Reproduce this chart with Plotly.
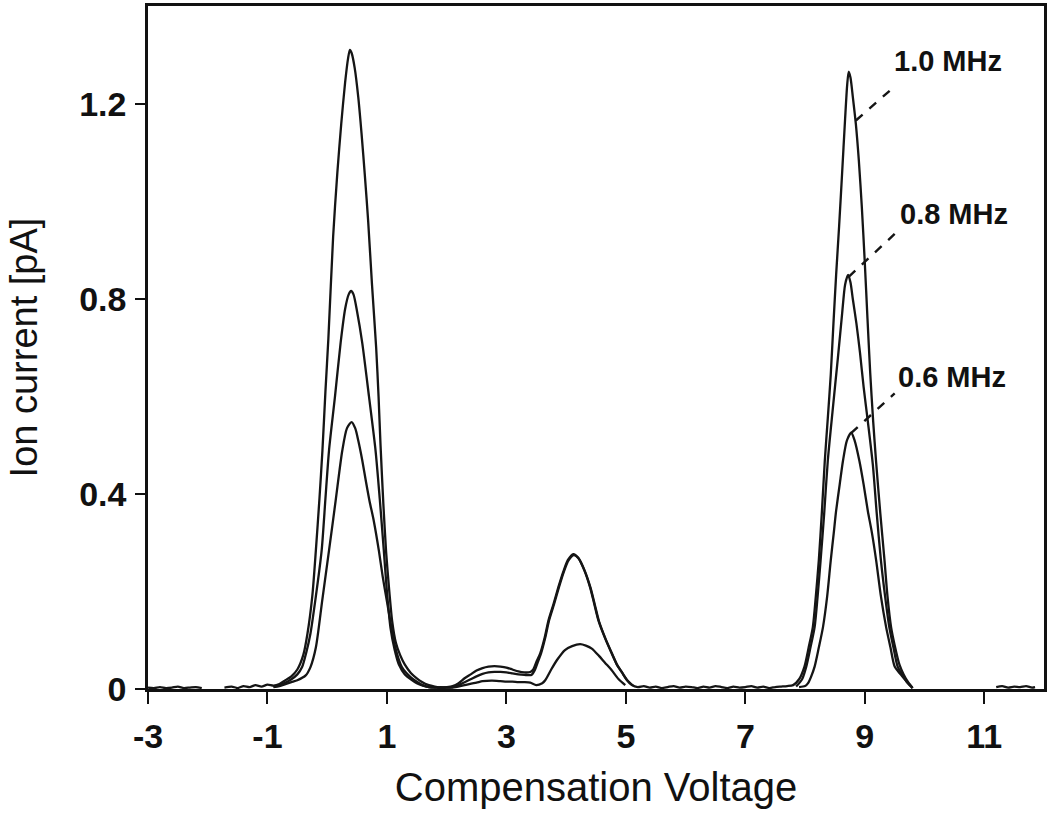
import plotly.graph_objects as go

# ---------------- data ----------------
N = None
x_10 = [-3.0, -2.9, -2.8, -2.7, -2.6, -2.5, -2.4, -2.3, -2.2, -2.1, N,
        -1.72, -1.6, -1.5, -1.4, -1.3, -1.2, -1.1, -1.0, -0.9, -0.8, -0.7, -0.6, -0.5, -0.4,
        -0.33, -0.25, -0.19, -0.13, -0.08, -0.03, 0.02, 0.1, 0.17, 0.235, 0.3, 0.35, 0.38,
        0.41, 0.46, 0.52, 0.575, 0.63, 0.686, 0.75, 0.82, 0.86, 0.893, 0.94, 0.987, 1.04,
        1.087, 1.15, 1.22, 1.3, 1.4, 1.5, 1.58, 1.7, 1.8, 1.9, 2.0, 2.1, 2.2, 2.3, 2.4, 2.5, 2.6,
        2.7, 2.8, 2.9, 3.0, 3.1, 3.2, 3.3, 3.4, 3.45, 3.5, 3.566, 3.64, 3.705, 3.79, 3.87,
        3.95, 4.03, 4.12, 4.2, 4.3, 4.4, 4.47, 4.54, 4.65, 4.763, 4.85, 4.93, 5.02, 5.1,
        5.2, 5.3, 5.4, 5.5, 5.6, 5.7, 5.8, 5.9, 6.0, 6.1, 6.2, 6.3, 6.4, 6.5, 6.6, 6.7,
        6.8, 6.9, 7.0, 7.1, 7.2, 7.3, 7.4, 7.5, 7.6, 7.7, 7.8, 7.9, 7.99, 8.06, 8.13, 8.18,
        8.23, 8.28, 8.33, 8.38, 8.43, 8.475, 8.52, 8.57, 8.618, 8.67, 8.705, 8.73, 8.76,
        8.8, 8.85, 8.9, 8.95, 9.0, 9.045, 9.09, 9.14, 9.19, 9.26, 9.33, 9.38, 9.44,
        9.5, 9.58, 9.65, 9.72, 9.8, N,
        11.2, 11.3, 11.4, 11.5, 11.6, 11.7, 11.8, 11.85]
y_10 = [0.003, 0.002, 0.004, 0.002, 0.003, 0.005, 0.002, 0.003, 0.004, 0.002, N,
        0.003, 0.005, 0.002, 0.006, 0.004, 0.008, 0.005, 0.009, 0.007, 0.01, 0.018, 0.026, 0.04, 0.07,
        0.114, 0.19, 0.284, 0.39, 0.489, 0.61, 0.72, 0.93, 1.06, 1.16, 1.245, 1.295, 1.312,
        1.305, 1.275, 1.215, 1.14, 1.055, 0.96, 0.83, 0.7, 0.6, 0.5, 0.38, 0.28, 0.2,
        0.14, 0.095, 0.07, 0.05, 0.033, 0.022, 0.015, 0.008, 0.005, 0.003, 0.004, 0.006, 0.012, 0.022, 0.03, 0.038, 0.043,
        0.046, 0.047, 0.046, 0.044, 0.04, 0.036, 0.034, 0.035, 0.04, 0.055, 0.073, 0.105, 0.141, 0.175, 0.209,
        0.24, 0.265, 0.277, 0.27, 0.245, 0.209, 0.175, 0.141, 0.105, 0.073, 0.05, 0.035, 0.018, 0.008,
        0.004, 0.006, 0.003, 0.005, 0.002, 0.004, 0.006, 0.003, 0.005, 0.004, 0.002, 0.005, 0.003, 0.006, 0.004, 0.002,
        0.005, 0.003, 0.004, 0.006, 0.003, 0.005, 0.002, 0.004, 0.005, 0.006, 0.008, 0.02, 0.046, 0.085, 0.127, 0.19,
        0.264, 0.36, 0.468, 0.555, 0.645, 0.75, 0.85, 0.95, 1.054, 1.17, 1.24, 1.267, 1.255,
        1.215, 1.16, 1.085, 0.99, 0.875, 0.76, 0.65, 0.55, 0.465, 0.36, 0.264, 0.19, 0.127,
        0.09, 0.05, 0.03, 0.015, 0.002, N,
        0.004, 0.006, 0.003, 0.005, 0.004, 0.006, 0.003, 0.004]

x_08 = [-0.9, -0.8, -0.7, -0.6, -0.5, -0.42, -0.35, -0.28, -0.19, -0.093, -0.03, 0.03, 0.13,
        0.225, 0.3, 0.36, 0.40, 0.44, 0.5, 0.586, 0.7, 0.81, 0.88, 0.948, 1.0, 1.06, 1.13,
        1.2, 1.3, 1.4, 1.5, 1.6, 1.7, 1.8, 1.9, 2.0, 2.1, 2.2, 2.3, 2.4, 2.5, 2.6, 2.7, 2.8,
        2.9, 3.0, 3.1, 3.2, 3.3, 3.42, 3.48, 3.54, 3.58, 3.65, 3.715, 3.8, 3.88, 3.96, 4.04,
        4.13, 4.21, 4.31, 4.41, 4.48, 4.55, 4.66, 4.775, 4.86, 4.94, 5.03, 5.12, N,
        7.85, 7.95, 8.02, 8.09, 8.16, 8.21, 8.26, 8.32, 8.38, 8.46, 8.55, 8.62, 8.67, 8.72,
        8.76, 8.8, 8.86, 8.92, 8.98, 9.05, 9.135, 9.2, 9.27, 9.34, 9.41, 9.48, 9.55, 9.65, 9.72, 9.8]
y_08 = [0.005, 0.008, 0.013, 0.02, 0.03, 0.045, 0.075, 0.114, 0.19, 0.284, 0.39, 0.489, 0.6,
        0.711, 0.78, 0.81, 0.817, 0.81, 0.775, 0.711, 0.6, 0.489, 0.39, 0.284, 0.2, 0.125, 0.08,
        0.05, 0.03, 0.02, 0.012, 0.007, 0.004, 0.003, 0.004, 0.003, 0.004, 0.008, 0.014, 0.02, 0.026, 0.031, 0.034, 0.035,
        0.035, 0.034, 0.032, 0.03, 0.029, 0.029, 0.04, 0.06, 0.073, 0.105, 0.141, 0.175, 0.209, 0.24, 0.264,
        0.275, 0.268, 0.243, 0.207, 0.173, 0.139, 0.103, 0.071, 0.048, 0.033, 0.017, 0.007, N,
        0.005, 0.02, 0.046, 0.085, 0.127, 0.19, 0.264, 0.36, 0.468, 0.57, 0.68, 0.77, 0.83, 0.85,
        0.835, 0.8, 0.75, 0.69, 0.62, 0.55, 0.46, 0.36, 0.264, 0.19, 0.127, 0.085, 0.046, 0.025, 0.012, 0.002]

x_06 = [-0.9, -0.8, -0.7, -0.6, -0.5, -0.36, -0.28, -0.19, -0.083, 0.03, 0.141, 0.252, 0.33,
        0.408, 0.47, 0.52, 0.586, 0.65, 0.71, 0.78, 0.865, 0.93, 1.0, 1.07, 1.14, 1.25, 1.39,
        1.5, 1.6, 1.7, 1.8, 1.9, 2.0, 2.1, 2.3, 2.5, 2.6, 2.76, 2.9, 3.0, 3.1, 3.2, 3.3, 3.4,
        3.5, 3.6, 3.65, 3.75, 3.85, 3.98, 4.1, 4.235, 4.33, 4.43, 4.55, 4.65, 4.76, 4.88, 4.99, N,
        7.9, 8.0, 8.05, 8.1, 8.16, 8.23, 8.30, 8.37, 8.43, 8.48, 8.52, 8.58, 8.634, 8.7, 8.773,
        8.83, 8.91, 8.98, 9.05, 9.12, 9.19, 9.27, 9.357, 9.43, 9.50, 9.6, 9.7, 9.8]
y_06 = [0.004, 0.006, 0.01, 0.014, 0.018, 0.028, 0.045, 0.085, 0.182, 0.284, 0.386, 0.489, 0.535,
        0.548, 0.535, 0.51, 0.47, 0.425, 0.385, 0.345, 0.284, 0.23, 0.18, 0.13, 0.085, 0.045, 0.025,
        0.015, 0.008, 0.004, 0.003, 0.002, 0.003, 0.003, 0.008, 0.013, 0.016, 0.017, 0.016, 0.015, 0.015, 0.014, 0.014, 0.013,
        0.008, 0.012, 0.018, 0.04, 0.06, 0.08, 0.088, 0.092, 0.089, 0.083, 0.068, 0.054, 0.039, 0.02, 0.008, N,
        0.004, 0.006, 0.012, 0.025, 0.046, 0.085, 0.127, 0.19, 0.264, 0.32, 0.366, 0.42, 0.468, 0.51, 0.526,
        0.51, 0.468, 0.42, 0.366, 0.32, 0.264, 0.19, 0.127, 0.085, 0.046, 0.03, 0.015, 0.002]

series_names = ["1.0 MHz", "0.8 MHz", "0.6 MHz"]
x_ticks = [-3, -1, 1, 3, 5, 7, 9, 11]
y_ticks = [0, 0.4, 0.8, 1.2]
y_tick_labels = ["0", "0.4", "0.8", "1.2"]

# label anchors (layout) and leader start points on the curves
label_pos = [(9.45, 1.29), (9.55, 0.975), (9.52, 0.64)]
leader_start = [(8.85, 1.167), (8.73, 0.846), (8.77, 0.525)]
leader_end = [(9.435, 1.23), (9.50, 0.934), (9.50, 0.607)]

FONT = "Liberation Sans, Arial, sans-serif"
LINE = "#151515"

fig = go.Figure()
for xs, ys, nm in [(x_10, y_10, series_names[0]), (x_08, y_08, series_names[1]), (x_06, y_06, series_names[2])]:
    fig.add_trace(go.Scatter(x=xs, y=ys, mode="lines", name=nm, connectgaps=False,
                             line=dict(color=LINE, width=2.3, shape="spline", smoothing=0.7),
                             showlegend=False, hoverinfo="skip"))

for (x0, y0), (x1, y1) in zip(leader_start, leader_end):
    fig.add_shape(type="line", x0=x0, y0=y0, x1=x1, y1=y1, xref="x", yref="y",
                  line=dict(color=LINE, width=2.4, dash="dash"))

for (lx, ly), nm in zip(label_pos, series_names):
    fig.add_annotation(x=lx, y=ly, text=nm, showarrow=False, xanchor="left", yanchor="middle",
                       font=dict(family=FONT, size=29, color="#111", weight="bold"))

fig.update_layout(
    width=1050, height=829,
    margin=dict(l=148, r=4, t=3, b=140),
    paper_bgcolor="white", plot_bgcolor="white",
    font=dict(family=FONT, color="#111"),
)
fig.update_xaxes(range=[-3, 12], tickvals=x_ticks, ticktext=[str(v) for v in x_ticks],
                 ticks="outside", ticklen=12, tickwidth=2, tickcolor="#111",
                 showline=True, linewidth=2.5, linecolor="#111", mirror=True,
                 showgrid=False, zeroline=False,
                 tickfont=dict(family=FONT, size=34, weight="bold"),
                 ticklabelstandoff=3,
                 title=dict(text="Compensation Voltage", font=dict(family=FONT, size=40), standoff=20))
fig.update_yaxes(range=[0, 1.402], tickvals=y_ticks, ticktext=y_tick_labels,
                 ticks="outside", ticklen=10, tickwidth=2, tickcolor="#111",
                 showline=True, linewidth=2.5, linecolor="#111", mirror=True,
                 showgrid=False, zeroline=False,
                 tickfont=dict(family=FONT, size=34, weight="bold"),
                 ticklabelstandoff=2,
                 title=dict(text="Ion current [pA]", font=dict(family=FONT, size=38), standoff=30))

fig.write_html("out.html", config={"displayModeBar": False},
               post_script="document.body.style.margin='0';")
